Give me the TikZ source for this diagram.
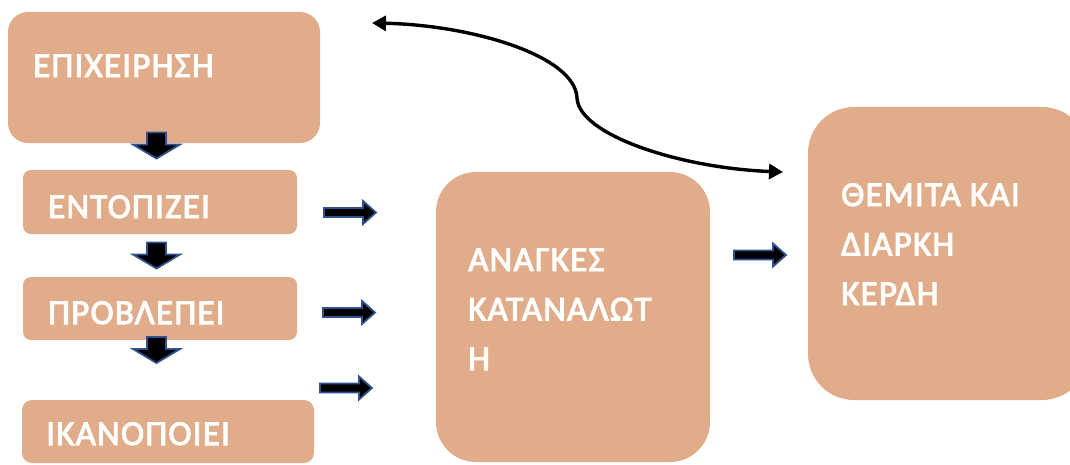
\documentclass[tikz,border=0pt]{standalone}
\usepackage{fontspec}
\setmainfont{Carlito}
\newfontfamily\cbold{Carlito}[FakeBold=2.8,LetterSpace=3.5]
\usetikzlibrary{arrows.meta}
\definecolor{boxfill}{HTML}{E1AC89}
\definecolor{arrowblue}{HTML}{2F528F}
\begin{document}
\begin{tikzpicture}[x=1pt,y=-1pt,
  box/.style={fill=boxfill, draw=none, inner sep=0pt},
  lbl/.style={anchor=base west, inner sep=0pt, text=white, font=\cbold\fontsize{35}{49.5}\selectfont, align=left},
  blockarrow/.style={fill=black, draw=arrowblue, line width=1.8pt, line join=miter},
  rarr/.pic={\draw[blockarrow] (0,-4.5)--(39,-4.5)--(39,-11.5)--(52,0)--(39,11.5)--(39,4.5)--(0,4.5)--cycle;},
  darr/.pic={\draw[blockarrow] (-9.5,0)--(9.5,0)--(9.5,12)--(23.5,12)--(0,26)--(-23.5,12)--(-9.5,12)--cycle;},
  curve/.style={line width=3.4pt, {Triangle[length=14pt,width=15pt]}-{Triangle[length=14pt,width=15pt]}}
]
\useasboundingbox (0,0) rectangle (1070,464);
% boxes
\node[box, rounded corners=20pt, minimum width=312pt, minimum height=131pt] (epix) at (164,77.5) {};
\node[box, rounded corners=8pt, minimum width=274pt, minimum height=64pt] (ento) at (160,202) {};
\node[box, rounded corners=8pt, minimum width=274pt, minimum height=63pt] (prov) at (160,308.5) {};
\node[box, rounded corners=10pt, minimum width=292pt, minimum height=63pt] (ikan) at (168,431.5) {};
\node[box, rounded corners=40pt, minimum width=274pt, minimum height=290pt] (anag) at (573,317) {};
\node[box, rounded corners=46pt, minimum width=280pt, minimum height=293pt] (them) at (948,253.5) {};
% labels (base anchor of a multi-line node is its last line)
\node[lbl] (tepix) at (33,77) {ΕΠΙΧΕΙΡΗΣΗ};
\node[lbl] (tento) at (48,218) {ΕΝΤΟΠΙΖΕΙ};
\node[lbl] (tprov) at (48,324) {ΠΡΟΒΛΕΠΕΙ};
\node[lbl] (tikan) at (46,445) {ΙΚΑΝΟΠΟΙΕΙ};
\node[lbl] (tanag) at (468,370) {ΑΝΑΓΚΕΣ\\ΚΑΤΑΝΑΛΩΤ\\Η};
\node[lbl] (tthem) at (841,305) {ΘΕΜΙΤΑ ΚΑΙ\\ΔΙΑΡΚΗ\\ΚΕΡΔΗ};
% block arrows
\pic at (156.5,132.5) {darr};
\pic at (156.5,242.5) {darr};
\pic at (156.5,337) {darr};
\pic at (324,212.5) {rarr};
\pic at (323,312.5) {rarr};
\pic at (320,388) {rarr};
\pic at (734,255) {rarr};
% curved double arrow
\coordinate (cl) at (372,23);
\coordinate (cr) at (783,172);
\draw[curve] (cl) .. controls (470,25) and (575,55) .. (577,98) .. controls (579,135) and (680,168) .. (cr);
\end{tikzpicture}
\end{document}
